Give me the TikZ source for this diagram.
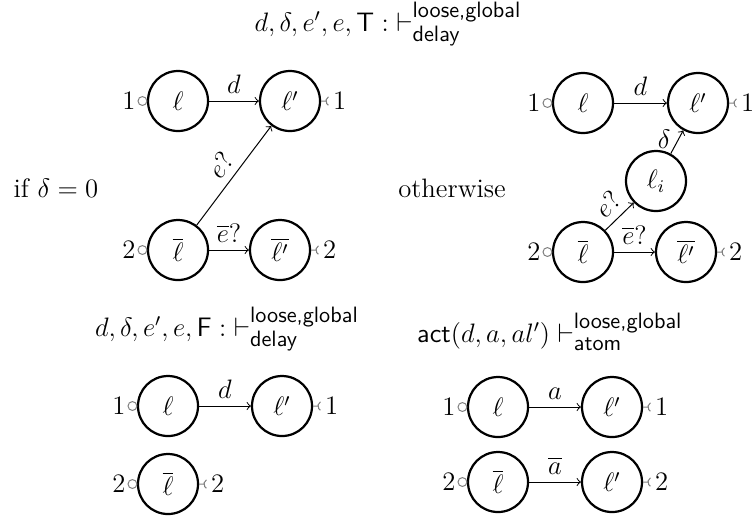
\documentclass[tikz,border=0pt]{standalone}
\usepackage{amsmath}
\usetikzlibrary{calc}
\tikzset{
  st/.style={circle, draw, line width=1pt, minimum size=27pt, inner sep=0pt},
  tr/.style={->, line width=0.45pt},
  ifc/.style={gray, line width=0.45pt},
  port/.style={inner sep=1pt},
  ttl/.style={font=\large},
}
\newcommand\stx[1]{\mbox{\normalsize\sffamily #1}}
\newcommand\inport[3]{%
  \draw[ifc] ([xshift=-2pt]#1.west) circle (2pt);
  \node[port, anchor=east] (#3) at ([xshift=-4pt]#1.west) {$#2$};}
\newcommand\outport[3]{%
  \draw[ifc] (#1.east) -- ++(2.2pt,0) ++(2.2pt,0) ++(120:2.2pt) arc[start angle=120, end angle=240, radius=2.2pt];
  \node[port, anchor=west] (#3) at ([xshift=4.2pt]#1.east) {$#2$};}
\begin{document}
\begin{tikzpicture}[x=0.45pt, y=-0.45pt, font=\large]
\useasboundingbox (0,0) rectangle (753,519);
% titles
\node[ttl] (t1) at (388,24) {$d, \delta, e', e, \mathsf{T} : \;\vdash^{\stx{loose,global}}_{\stx{delay}}$};
\node[ttl] (t2) at (227,329) {$d, \delta, e', e, \mathsf{F} : \;\vdash^{\stx{loose,global}}_{\stx{delay}}$};
\node[ttl] (t3) at (550,332) {$\mathsf{act}(d, a, al') \vdash^{\stx{loose,global}}_{\stx{atom}}$};
\node (c1) at (56,188) {if $\delta = 0$};
\node (c2) at (452,188) {otherwise};
% top-left
\node[st] (a1) at (178,101) {$\ell$};
\node[st] (a2) at (290,101) {$\ell'$};
\node[st] (a3) at (178,250) {$\overline{\ell}$};
\node[st] (a4) at (280,250) {$\overline{\ell'}$};
\draw[tr] (a1) -- node[above] {$d$} (a2);
\draw[tr] (a3) -- node[above] {$\overline{e}?$} (a4);
\draw[tr] (a3) -- node[above, sloped] {$e?$} (a2);
\inport{a1}{1}{a1l}
\outport{a2}{1}{a2r}
\inport{a3}{2}{a3l}
\outport{a4}{2}{a4r}
% top-right
\node[st] (b1) at (583,103) {$\ell$};
\node[st] (b2) at (698,103) {$\ell'$};
\node[st] (b5) at (656,181) {$\ell_i$};
\node[st] (b3) at (583,252) {$\overline{\ell}$};
\node[st] (b4) at (686,252) {$\overline{\ell'}$};
\draw[tr] (b1) -- node[above] {$d$} (b2);
\draw[tr] (b5) -- node[left, pos=0.6] {$\delta$} (b2);
\draw[tr] (b3) -- node[above, sloped] {$e?$} (b5);
\draw[tr] (b3) -- node[above] {$\overline{e}?$} (b4);
\inport{b1}{1}{b1l}
\outport{b2}{1}{b2r}
\inport{b3}{2}{b3l}
\outport{b4}{2}{b4r}
% bottom-left
\node[st] (c1n) at (168,406) {$\ell$};
\node[st] (c2n) at (282,406) {$\ell'$};
\node[st] (c3n) at (168,484) {$\overline{\ell}$};
\draw[tr] (c1n) -- node[above] {$d$} (c2n);
\inport{c1n}{1}{c1l}
\outport{c2n}{1}{c2r}
\inport{c3n}{2}{c3l}
\outport{c3n}{2}{c3r}
% bottom-right
\node[st] (d1) at (498,407) {$\ell$};
\node[st] (d2) at (612,407) {$\ell'$};
\node[st] (d3) at (498,482) {$\overline{\ell}$};
\node[st] (d4) at (612,482) {$\ell'$};
\draw[tr] (d1) -- node[above] {$a$} (d2);
\draw[tr] (d3) -- node[above] {$\overline{a}$} (d4);
\inport{d1}{1}{d1l}
\outport{d2}{1}{d2r}
\inport{d3}{2}{d3l}
\outport{d4}{2}{d4r}
\end{tikzpicture}
\end{document}
